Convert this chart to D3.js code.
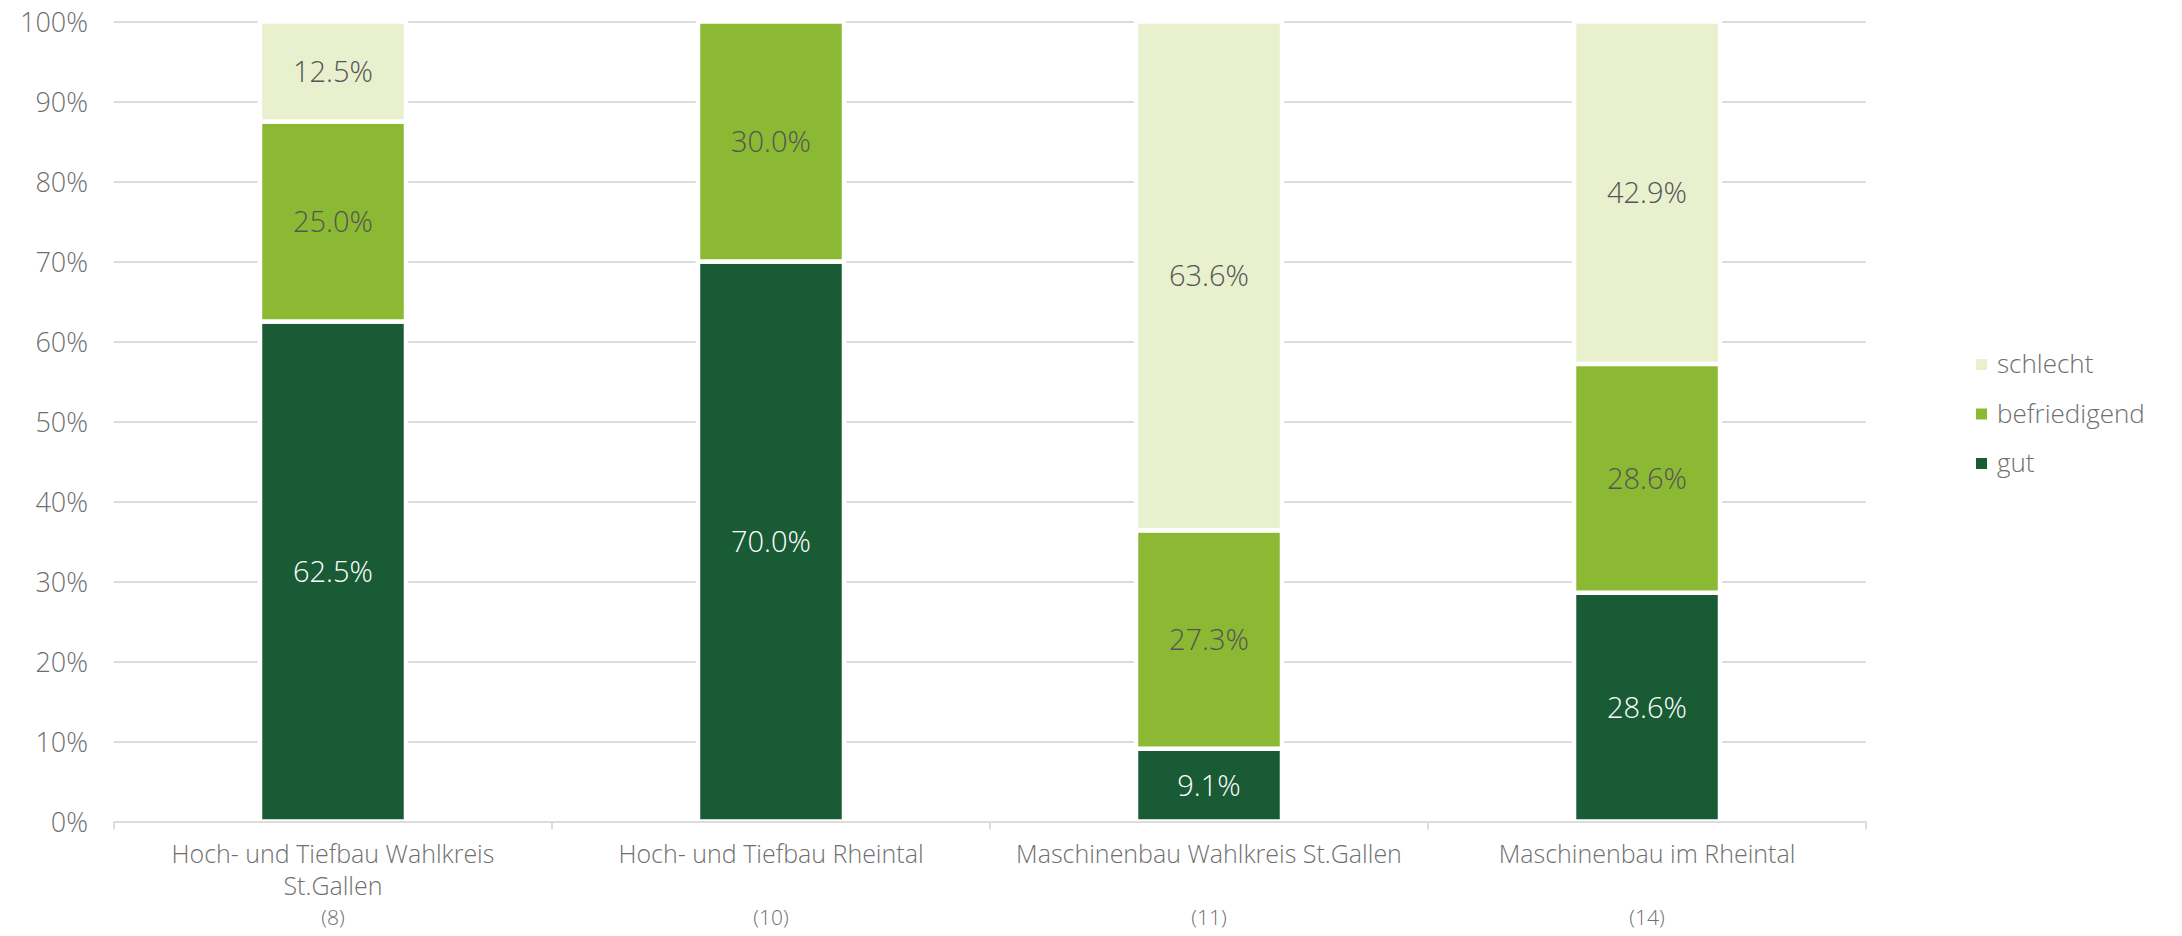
<!DOCTYPE html>
<html>
<head>
<meta charset="utf-8">
<script src="https://cdn.jsdelivr.net/npm/d3@7"></script>
<style>
  body { margin: 0; background: #fff; }
  text { font-family: 'Open Sans', 'Noto Sans', sans-serif; font-weight: 300; }
</style>
</head>
<body>
<script>
/* jshint esversion: 6 */
// chart data
const categories = [
  'Hoch- und Tiefbau Wahlkreis St.Gallen',
  'Hoch- und Tiefbau Rheintal',
  'Maschinenbau Wahlkreis St.Gallen',
  'Maschinenbau im Rheintal'
];
const counts = ['(8)', '(10)', '(11)', '(14)'];
const seriesNames = ['gut', 'befriedigend', 'schlecht'];
const gut = [62.5, 70.0, 9.1, 28.6];
const befriedigend = [25.0, 30.0, 27.3, 28.6];
const schlecht = [12.5, 0, 63.6, 42.9];
const yTicks = [0, 10, 20, 30, 40, 50, 60, 70, 80, 90, 100];

(function() {
  'use strict';

  const width = 2182;
  const height = 936;
  const colors = { gut: '#195b35', befriedigend: '#8cb933', schlecht: '#e8f0cd' };
  const labelColors = { gut: '#ffffff', befriedigend: '#555555', schlecht: '#555555' };
  const axisText = '#6f6f6f';

  let svgContainer = d3.select('body')
    .append('svg')
    .attr('width', width)
    .attr('height', height);

  // build rows for the stack layout
  let rows = categories.map((c, i) => ({
    category: c,
    gut: gut[i],
    befriedigend: befriedigend[i],
    schlecht: schlecht[i]
  }));

  let xScale = d3.scaleBand()
    .domain(categories)
    .range([114, 1866])
    .paddingInner(0.6667)
    .paddingOuter(0.3333);

  let yScale = d3.scaleLinear()
    .domain([0, 100])
    .range([821.5, 21.5])
    .clamp(true);

  // gridlines and y tick labels
  let yAxis = d3.axisLeft(yScale)
    .tickValues(yTicks)
    .tickSize(-(1866 - 114))
    .tickPadding(26)
    .tickFormat(d => d + '%');

  let yG = svgContainer.append('g')
    .attr('transform', 'translate(114, 0)')
    .call(yAxis);
  yG.select('.domain').remove();
  yG.selectAll('.tick line')
    .attr('stroke', '#dcdcdc')
    .attr('stroke-width', 2);
  yG.selectAll('.tick text')
    .attr('font-size', '27px')
    .attr('fill', axisText)
    .attr('dy', '0.36em')
    .style('font-family', "'Open Sans', sans-serif");

  // stacked bars
  let stack = d3.stack().keys(seriesNames);
  let layers = stack(rows);

  let layerG = svgContainer.selectAll('.layer')
    .data(layers)
    .enter()
    .append('g')
      .attr('class', 'layer')
      .attr('fill', d => colors[d.key]);

  layerG.selectAll('rect')
    .data(d => d.filter(s => s[1] - s[0] > 0))
    .enter()
    .append('rect')
      .attr('x', d => xScale(d.data.category))
      .attr('y', d => yScale(d[1]))
      .attr('width', xScale.bandwidth())
      .attr('height', d => yScale(d[0]) - yScale(d[1]))
      .attr('stroke', '#fff')
      .attr('stroke-width', 4.5);

  // value labels inside the segments
  layers.forEach(layer => {
    svgContainer.selectAll('.lbl-' + layer.key)
      .data(layer.filter(s => s[1] - s[0] > 0))
      .enter()
      .append('text')
        .attr('class', 'lbl-' + layer.key)
        .attr('x', d => xScale(d.data.category) + xScale.bandwidth() / 2)
        .attr('y', d => (yScale(d[0]) + yScale(d[1])) / 2)
        .attr('dy', '0.36em')
        .attr('text-anchor', 'middle')
        .attr('font-size', '29px')
        .attr('fill', labelColors[layer.key])
        .text(d => (d[1] - d[0]).toFixed(1) + '%');
  });

  // x axis line with ticks between categories
  let y0 = yScale(0);
  svgContainer.append('line')
    .attr('x1', 114)
    .attr('x2', 1866)
    .attr('y1', y0 + 0.5)
    .attr('y2', y0 + 0.5)
    .attr('stroke', '#dcdcdc')
    .attr('stroke-width', 2);

  let step = xScale.step();
  let boundaries = categories.map(c => xScale(c) - (step - xScale.bandwidth()) / 2);
  boundaries.push(boundaries[boundaries.length - 1] + step);
  svgContainer.selectAll('.xtick')
    .data(boundaries)
    .enter()
    .append('line')
      .attr('class', 'xtick')
      .attr('x1', d => d)
      .attr('x2', d => d)
      .attr('y1', y0)
      .attr('y2', y0 + 8)
      .attr('stroke', '#dcdcdc')
      .attr('stroke-width', 2);

  // category labels, wrapped when wider than the label box
  const wrapWidth = 400;
  categories.forEach((c, i) => {
    let cx = xScale(c) + xScale.bandwidth() / 2;
    let t = svgContainer.append('text')
      .attr('x', cx)
      .attr('y', 863)
      .attr('text-anchor', 'middle')
      .attr('font-size', '25px')
      .attr('fill', axisText);
    let words = c.split(' ');
    let line = [];
    let lineNo = 0;
    let tspan = t.append('tspan').attr('x', cx).attr('y', 863);
    words.forEach(w => {
      line.push(w);
      tspan.text(line.join(' '));
      if (tspan.node().getComputedTextLength() > wrapWidth && line.length > 1) {
        line.pop();
        tspan.text(line.join(' '));
        line = [w];
        lineNo++;
        tspan = t.append('tspan').attr('x', cx).attr('y', 863 + lineNo * 32).text(w);
      }
    });

    svgContainer.append('text')
      .attr('x', cx)
      .attr('y', 925)
      .attr('text-anchor', 'middle')
      .attr('font-size', '21px')
      .attr('fill', axisText)
      .text(counts[i]);
  });

  // legend, top to bottom: schlecht, befriedigend, gut
  let legendKeys = seriesNames.slice().reverse();
  let legend = svgContainer.selectAll('.legend')
    .data(legendKeys)
    .enter()
    .append('g')
      .attr('class', 'legend')
      .attr('transform', (d, i) => 'translate(1976,' + (359 + i * 49.5) + ')');

  legend.append('rect')
    .attr('width', 11)
    .attr('height', 11)
    .attr('fill', d => colors[d]);

  legend.append('text')
    .attr('x', 21)
    .attr('y', 14)
    .attr('font-size', '26px')
    .attr('fill', axisText)
    .text(d => d);
})();
</script>
</body>
</html>
